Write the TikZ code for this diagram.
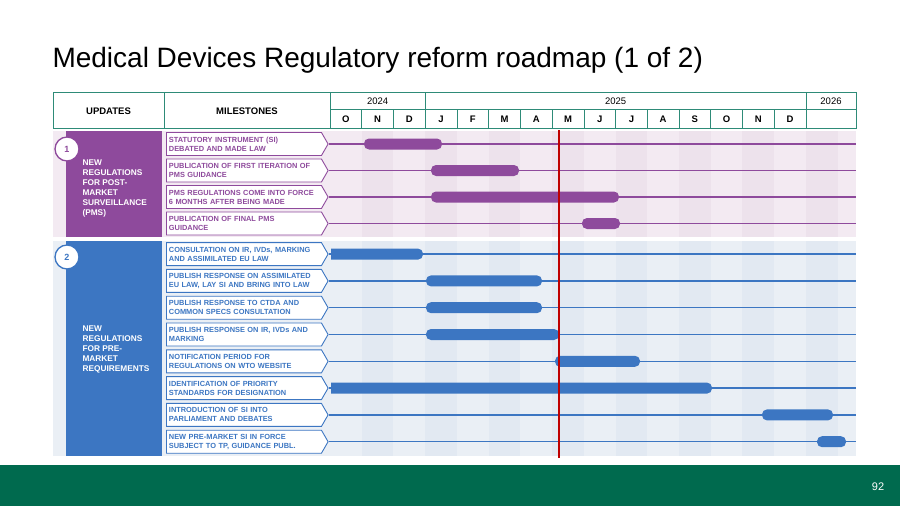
\documentclass[tikz,border=0pt]{standalone}
\usepackage{fontspec}
\setmainfont{Liberation Sans}
\usetikzlibrary{shapes.symbols}
\definecolor{pur}{HTML}{8E4A9C}
\definecolor{blu}{HTML}{3C76C2}
\definecolor{teal}{HTML}{2E8B78}
\definecolor{pbg}{HTML}{F3EAF2}
\definecolor{pbg2}{HTML}{EDE2EC}
\definecolor{bbg}{HTML}{EAEFF5}
\definecolor{bbg2}{HTML}{E2E9F2}
\definecolor{foot}{HTML}{006A4E}
\tikzset{
 ms/.style={signal, signal to=east, signal pointer angle=120, draw=#1, line width=0.9pt, fill=white,
   minimum width=161pt, minimum height=23pt, inner xsep=2.5pt, inner ysep=1.5pt, text=#1, align=left, text width=150pt,
   font=\fontsize{7.4}{9}\selectfont\bfseries, anchor=west},
 hd/.style={font=\fontsize{9.5}{11}\selectfont\bfseries},
 yr/.style={font=\fontsize{9.5}{11}\selectfont},
 tl/.style={line width=1.3pt, #1},
}
\newcommand{\rbar}[4]{\fill[#4, rounded corners=5pt] (#1,#3-5.5) rectangle (#2,#3+5.5);}
\newcommand{\fbar}[4]{\fill[#4] (#1,#3-5.5) [rounded corners=5pt] -- (#2,#3-5.5) -- (#2,#3+5.5) [sharp corners] -- (#1,#3+5.5) -- cycle;}
\begin{document}
\begin{tikzpicture}[x=1pt,y=-1pt]
\useasboundingbox (0,0) rectangle (900,506);
\fill[white] (0,0) rectangle (900,506);
\node[anchor=west, font=\fontsize{28}{32}\selectfont] (title) at (49,60) {Medical Devices Regulatory reform roadmap (1 of 2)};
% backgrounds
\fill[pbg] (53,131) rectangle (856,237);
\fill[bbg] (53,241) rectangle (856,456);
\foreach \i in {1,3,...,15} {
 \fill[pbg2] (330+\i*31.73,131) rectangle (330+\i*31.73+31.73,237);
 \fill[bbg2] (330+\i*31.73,241) rectangle (330+\i*31.73+31.73,456);
}
% header
\begin{scope}[draw=teal, line width=1pt]
\draw (53,92) rectangle (856,128);
\draw (164,92) -- (164,128);
\draw (330,92) -- (330,128);
\draw (330,109) -- (856,109);
\draw (425.2,92) -- (425.2,128);
\draw (806,92) -- (806,128);
\foreach \i in {1,2,4,5,...,14} \draw[line width=0.6pt] (330+\i*31.73,109) -- (330+\i*31.73,128);
\end{scope}
\node[hd] (hu) at (108.5,111) {UPDATES};
\node[hd] (hm) at (247,111) {MILESTONES};
\node[yr] (y24) at (377.6,101) {2024};
\node[yr] (y25) at (615.6,101) {2025};
\node[yr] (y26) at (831,101) {2026};
\foreach \m [count=\i from 0] in {O,N,D,J,F,M,A,M,J,J,A,S,O,N,D}
 \node[hd] (mon\i) at (330+\i*31.73+15.86,119) {\m};
% section 1
\fill[pur] (66,131) rectangle (162,237);
\node[circle, draw=pur, line width=1.3pt, fill=white, minimum size=24pt, inner sep=0, font=\fontsize{9}{10}\selectfont\bfseries, text=pur] (c1) at (67,149) {1};
\node[anchor=north west, text=white, align=left, font=\fontsize{8.3}{10}\selectfont\bfseries] (s1) at (79,156) {NEW\\REGULATIONS\\FOR POST-\\MARKET\\SURVEILLANCE\\(PMS)};
\foreach \t [count=\i] in {{STATUTORY INSTRUMENT (SI)\\DEBATED AND MADE LAW},{PUBLICATION OF FIRST ITERATION OF\\PMS GUIDANCE},{PMS REGULATIONS COME INTO FORCE\\6 MONTHS AFTER BEING MADE},{PUBLICATION OF FINAL PMS\\GUIDANCE}} {
 \node[ms=pur] (p\i) at (166,117.5+\i*26.5) {\t};
 \coordinate (pe\i) at (856,117.5+\i*26.5);
 \draw[tl=pur] (p\i.east) -- (pe\i);
}
\rbar{364}{442}{144}{pur}
\rbar{431}{519}{170.5}{pur}
\rbar{431}{619}{197}{pur}
\rbar{582}{620}{223.5}{pur}
% section 2
\fill[blu] (66,241) rectangle (162,456);
\node[circle, draw=blu, line width=1.3pt, fill=white, minimum size=24pt, inner sep=0, font=\fontsize{9}{10}\selectfont\bfseries, text=blu] (c2) at (67,257) {2};
\node[anchor=north west, text=white, align=left, font=\fontsize{8.3}{10}\selectfont\bfseries] (s2) at (79,322) {NEW\\REGULATIONS\\FOR PRE-\\MARKET\\REQUIREMENTS};
\foreach \t [count=\i] in {{CONSULTATION ON IR, IVDs, MARKING\\AND ASSIMILATED EU LAW},{PUBLISH RESPONSE ON ASSIMILATED\\EU LAW, LAY SI AND BRING INTO LAW},{PUBLISH RESPONSE TO CTDA AND\\COMMON SPECS CONSULTATION},{PUBLISH RESPONSE ON IR, IVDs AND\\MARKING},{NOTIFICATION PERIOD FOR\\REGULATIONS ON WTO WEBSITE},{IDENTIFICATION OF PRIORITY\\STANDARDS FOR DESIGNATION},{INTRODUCTION OF SI INTO\\PARLIAMENT AND DEBATES},{NEW PRE-MARKET SI IN FORCE\\SUBJECT TO TP, GUIDANCE PUBL.}} {
 \node[ms=blu] (b\i) at (166,227.3+\i*26.8) {\t};
 \coordinate (be\i) at (856,227.3+\i*26.8);
 \draw[tl=blu] (b\i.east) -- (be\i);
}
\fbar{331}{423}{254.1}{blu}
\rbar{426}{542}{280.9}{blu}
\rbar{426}{542}{307.7}{blu}
\rbar{426}{559}{334.5}{blu}
\rbar{555}{640}{361.3}{blu}
\fbar{331}{712}{388.1}{blu}
\rbar{762}{833}{414.9}{blu}
\rbar{817}{846}{441.7}{blu}
% today line
\coordinate (rt) at (559,130);
\coordinate (rb) at (559,458);
\draw[red!75!black, line width=1.5pt] (rt) -- (rb);
% footer
\fill[foot] (0,465) rectangle (900,506);
\node[text=white, font=\fontsize{11}{13}\selectfont] (pg) at (878,487) {92};
\end{tikzpicture}
\end{document}
